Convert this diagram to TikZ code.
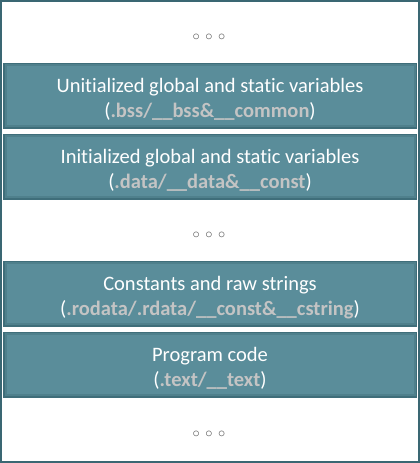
\documentclass[tikz,border=0pt]{standalone}
\usepackage{fontspec}
\setmainfont{Carlito}[Ligatures=NoCommon]
\definecolor{frame}{HTML}{3A6773}
\definecolor{boxedge}{HTML}{3F6E7A}
\definecolor{boxmid}{HTML}{4F808C}
\definecolor{boxfill}{HTML}{5A8D9A}
\definecolor{sect}{HTML}{C4C4C4}
\definecolor{dotc}{HTML}{555555}
\tikzset{
  seg/.style={minimum width=414pt, minimum height=66pt, inner sep=0pt, fill=boxedge,
    text=white, align=center, font=\fontsize{20.5}{24.5}\selectfont,
    path picture={
      \fill[boxmid] ([xshift=1.5pt,yshift=-1.5pt]path picture bounding box.north west) rectangle ([xshift=-1.5pt,yshift=1.5pt]path picture bounding box.south east);
      \fill[boxfill] ([xshift=3.5pt,yshift=-3.5pt]path picture bounding box.north west) rectangle ([xshift=-3.5pt,yshift=3.5pt]path picture bounding box.south east);
    }},
  dots/.style={font=\fontsize{15}{16}\selectfont, text=dotc}
}
\newcommand{\secname}[1]{\textcolor{sect}{\textbf{#1}}}
\newcommand{\dn}{\rule{0pt}{22pt}}
\begin{document}
\begin{tikzpicture}[x=1pt,y=1pt]
\useasboundingbox (0,0) rectangle (420,-463);
\fill[white] (0,0) rectangle (420,-463);
\draw[frame, line width=2pt] (1,-1) rectangle (419,-462);
\node[dots] (d1) at (209,-37) {$\circ\,\circ\,\circ$};
\node[seg] (b1) at (210,-95.5) {\dn Unitialized global and static variables\\(\secname{.bss/\_\_bss\&\_\_common})};
\node[seg] (b2) at (210,-166.5) {\dn Initialized global and static variables\\(\secname{.data/\_\_data\&\_\_const})};
\node[dots] (d2) at (209,-235) {$\circ\,\circ\,\circ$};
\node[seg] (b3) at (210,-293.5) {\dn Constants and raw strings\\(\secname{.rodata/.rdata/\_\_const\&\_\_cstring})};
\node[seg] (b4) at (210,-364.5) {\dn Program code\\(\secname{.text/\_\_text})};
\node[dots] (d3) at (209,-434) {$\circ\,\circ\,\circ$};
\end{tikzpicture}
\end{document}
